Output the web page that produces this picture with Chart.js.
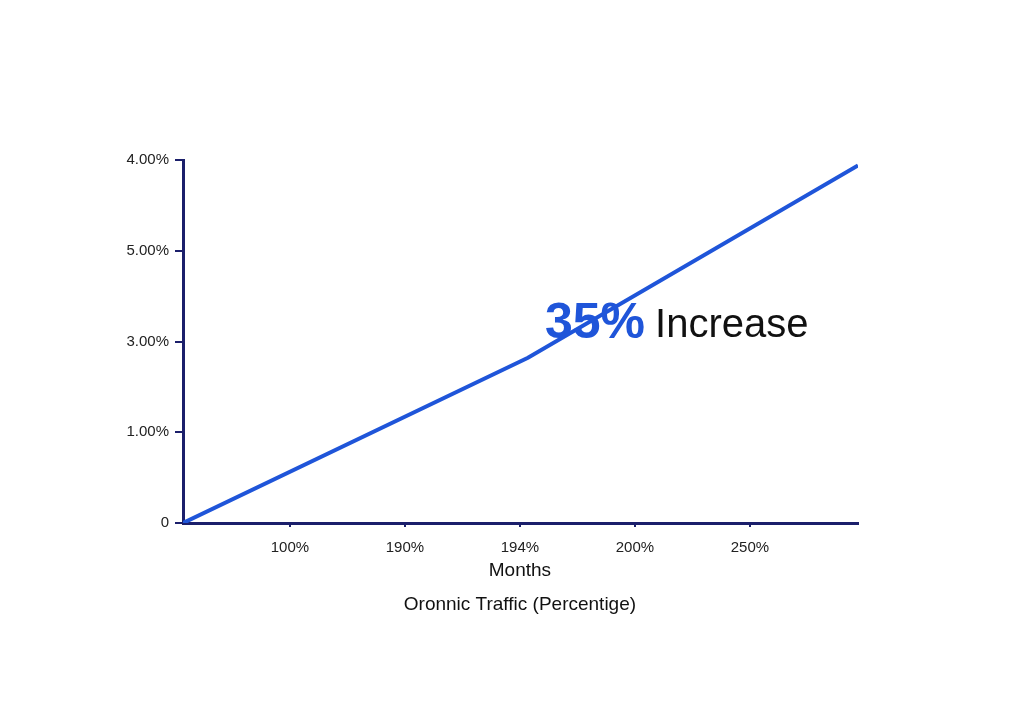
<!DOCTYPE html>
<html>
<head>
<meta charset="utf-8">
<script src="https://cdn.jsdelivr.net/npm/chart.js@4"></script>
<style>
  html, body { margin: 0; padding: 0; background: #fff; }
  #wrap { width: 1024px; height: 704px; }
</style>
</head>
<body>
<div id="wrap"><canvas id="c" width="1024" height="704"></canvas></div>
<script>
// Values
const xTickValues = [1, 2, 3, 4, 5];
const xTickLabels = ['100%', '190%', '194%', '200%', '250%'];
const yTickValues = [0, 1, 2, 3, 4];
const yTickLabels = ['0', '1.00%', '3.00%', '5.00%', '4.00%'];
const trafficX = [0.07, 3.07, 5.94];
const trafficY = [0, 1.82, 3.94];

const NAVY = '#1b1f6b';
const BLUE = '#1f55d9';

// Annotation and axis titles drawn on top of the chart
const textPlugin = {
  id: 'texts',
  afterDraw(chart) {
    const ctx = chart.ctx;
    const xs = chart.scales.x;
    ctx.save();
    ctx.textBaseline = 'middle';
    ctx.font = 'bold 50px "Liberation Sans", Arial, sans-serif';
    ctx.fillStyle = BLUE;
    ctx.textAlign = 'left';
    ctx.fillText('35%', 545, 324);
    const w = ctx.measureText('35%').width;
    ctx.font = '40px "Liberation Sans", Arial, sans-serif';
    ctx.fillStyle = '#111';
    ctx.fillText('Increase', 545 + w + 10, 326);
    ctx.textAlign = 'center';
    ctx.font = '19px "Liberation Sans", Arial, sans-serif';
    ctx.fillText('Months', xs.getPixelForValue(3), 571);
    ctx.fillText('Oronnic Traffic (Percentige)', xs.getPixelForValue(3), 605);
    ctx.restore();
  }
};

new Chart(document.getElementById('c'), {
  type: 'line',
  data: {
    datasets: [{
      data: trafficX.map((x, i) => ({ x: x, y: trafficY[i] })),
      borderColor: BLUE,
      borderWidth: 4,
      pointRadius: 0,
      tension: 0,
      fill: false
    }]
  },
  options: {
    responsive: false,
    animation: false,
    layout: { padding: { left: 0, right: 166, top: 160, bottom: 0 } },
    plugins: { legend: { display: false }, tooltip: { enabled: false } },
    scales: {
      x: {
        type: 'linear',
        min: 0.07,
        max: 5.94,
        afterBuildTicks: s => { s.ticks = xTickValues.map(v => ({ value: v })); },
        afterFit: s => { s.height = 181; },
        ticks: {
          color: '#222',
          font: { size: 15, family: '"Liberation Sans", Arial, sans-serif' },
          padding: 12,
          maxRotation: 0,
          callback: (v) => xTickLabels[xTickValues.indexOf(v)]
        },
        grid: { drawOnChartArea: false, color: NAVY, tickLength: 4, lineWidth: 2 },
        border: { color: NAVY, width: 3 }
      },
      y: {
        type: 'linear',
        min: 0,
        max: 4,
        afterBuildTicks: s => { s.ticks = yTickValues.map(v => ({ value: v })); },
        afterFit: s => { s.width = 183; },
        ticks: {
          color: '#222',
          font: { size: 15, family: '"Liberation Sans", Arial, sans-serif' },
          padding: 6,
          callback: (v) => yTickLabels[yTickValues.indexOf(v)]
        },
        grid: { drawOnChartArea: false, color: NAVY, tickLength: 8, lineWidth: 2 },
        border: { color: NAVY, width: 3 }
      }
    }
  },
  plugins: [textPlugin]
});
</script>
</body>
</html>
